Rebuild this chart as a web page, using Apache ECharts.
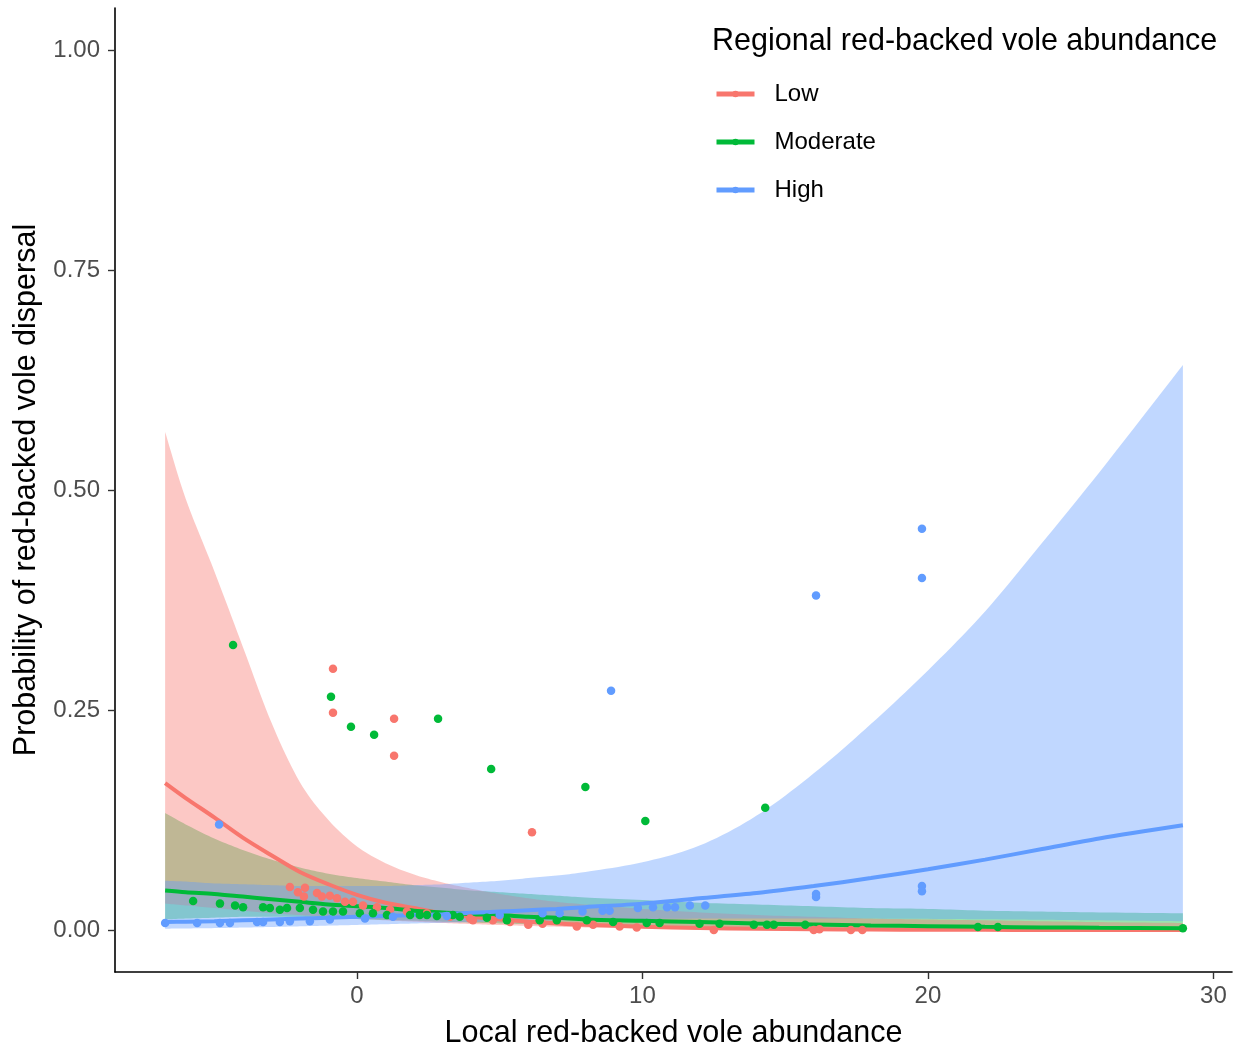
<!DOCTYPE html>
<html>
<head>
<meta charset="utf-8">
<script src="https://cdn.jsdelivr.net/npm/echarts@6/dist/echarts.min.js"></script>
<style>
html,body{margin:0;padding:0;background:#fff;}
#chart{width:1238px;height:1053px;}
</style>
</head>
<body>
<div id="chart"></div>
<script>
// ---------- data ----------
const groups = ['Low', 'Moderate', 'High'];
const xTicks = [0, 10, 20, 30];
const yTicks = [0, 0.25, 0.5, 0.75, 1];

// scatter points [local abundance, probability]
const lowPoints = [
  [-0.84,0.297],[-0.84,0.247],[1.3,0.240],[1.3,0.198],[6.13,0.111],
  [-2.35,0.049],[-2.07,0.043],[-1.82,0.048],[-1.86,0.038],[-1.40,0.042],
  [-1.23,0.038],[-0.95,0.039],[-0.70,0.036],[-0.42,0.032],[-0.14,0.032],
  [0.21,0.028],[0.70,0.026],[1.16,0.023],[1.75,0.021],[2.45,0.019],
  [3.26,0.015],[3.96,0.013],[4.06,0.011],[4.76,0.011],[5.36,0.009],
  [6.0,0.006],[6.5,0.007],[7.7,0.004],[8.27,0.006],[9.2,0.004],[9.8,0.003],
  [12.5,0.0],[16.0,0.0],[16.2,0.001],[17.3,0.0],[17.7,0.0]
];
const moderatePoints = [
  [-4.34,0.324],[-0.91,0.265],[-0.21,0.231],[0.6,0.222],[2.84,0.240],
  [4.7,0.183],[8.0,0.1625],[10.1,0.124],[14.3,0.139],
  [-5.74,0.033],[-4.8,0.030],[-4.27,0.028],[-3.99,0.026],[-3.29,0.026],
  [-3.05,0.025],[-2.70,0.023],[-2.45,0.025],[-2.0,0.025],[-1.54,0.023],
  [-1.19,0.021],[-0.84,0.021],[-0.49,0.021],[0.1,0.019],[0.56,0.019],
  [1.05,0.017],[1.86,0.017],[2.2,0.017],[2.45,0.017],[2.8,0.016],
  [3.36,0.017],[3.6,0.015],[4.55,0.014],[5.25,0.011],[6.4,0.011],
  [7.0,0.011],[8.05,0.011],[8.97,0.009],[10.15,0.008],[10.6,0.008],
  [12.0,0.007],[12.7,0.007],[13.9,0.006],[14.36,0.006],[14.6,0.006],
  [15.7,0.006],[21.75,0.0035],[22.45,0.0035],[28.93,0.002]
];
const highPoints = [
  [-4.83,0.120],[8.9,0.272],[16.08,0.380],[19.79,0.456],[19.79,0.400],
  [16.08,0.0375],[16.08,0.041],[19.79,0.050],[19.79,0.044],[12.2,0.028],
  [-6.72,0.008],[-5.6,0.008],[-4.8,0.008],[-4.45,0.008],[-3.5,0.009],
  [-3.29,0.009],[-2.7,0.009],[-2.35,0.010],[-1.65,0.010],[-0.95,0.012],
  [0.28,0.013],[1.26,0.015],[3.15,0.016],[5.0,0.017],[6.5,0.019],
  [7.1,0.019],[7.9,0.021],[8.6,0.022],[8.85,0.022],[9.84,0.025],
  [10.37,0.026],[10.86,0.026],[11.14,0.026],[11.66,0.028]
];

// fitted curves and confidence ribbons, read at these x positions
const fitX = [-6.72,-6,-5,-4,-3,-2,-1,0,1,2,3,4,5,6,7,8,10,12,14,16,18,20,22,24,26,28.93];
const lowFit = [0.167,0.150,0.128,0.105,0.085,0.066,0.052,0.040,0.031,0.025,0.019,0.015,0.012,0.0095,0.0075,0.006,0.0037,0.0023,0.0014,0.0009,0.0005,0.0003,0.0002,0.0001,0.0001,0.0];
const lowUpper = [0.566,0.490,0.408,0.322,0.236,0.168,0.125,0.095,0.076,0.063,0.054,0.047,0.041,0.036,0.032,0.029,0.024,0.020,0.017,0.015,0.013,0.012,0.011,0.010,0.009,0.008];
const lowLower = [0.030,0.028,0.025,0.022,0.019,0.017,0.015,0.013,0.011,0.0095,0.008,0.0068,0.0057,0.0047,0.0038,0.003,0.0019,0.0012,0.0007,0.0004,0.0002,0.0001,0.0001,0.0,0.0,0.0];
const moderateFit = [0.045,0.043,0.041,0.038,0.035,0.032,0.029,0.027,0.025,0.022,0.020,0.018,0.017,0.015,0.014,0.012,0.0105,0.009,0.0075,0.0063,0.0052,0.0044,0.0036,0.003,0.0025,0.002];
const moderateUpper = [0.133,0.120,0.104,0.091,0.080,0.071,0.064,0.059,0.055,0.051,0.048,0.045,0.043,0.041,0.039,0.037,0.034,0.031,0.029,0.027,0.025,0.024,0.022,0.021,0.020,0.019];
const moderateLower = [0.012,0.013,0.014,0.015,0.015,0.015,0.014,0.0125,0.0115,0.0105,0.0095,0.0085,0.0075,0.0066,0.0058,0.005,0.0037,0.0027,0.0019,0.0014,0.001,0.0007,0.0005,0.0004,0.0003,0.0002];
const highFit = [0.009,0.0095,0.010,0.011,0.012,0.013,0.014,0.015,0.016,0.017,0.018,0.0195,0.021,0.0225,0.024,0.026,0.030,0.036,0.042,0.050,0.059,0.069,0.080,0.092,0.104,0.119];
const highUpper = [0.056,0.055,0.053,0.052,0.051,0.050,0.050,0.050,0.050,0.051,0.052,0.054,0.056,0.059,0.062,0.066,0.077,0.096,0.130,0.178,0.234,0.295,0.362,0.440,0.520,0.642];
const highLower = [0.0015,0.0018,0.0022,0.0028,0.0035,0.0042,0.005,0.0058,0.0066,0.0074,0.0082,0.009,0.0097,0.0104,0.011,0.0116,0.0125,0.013,0.0132,0.0132,0.013,0.0127,0.0122,0.0117,0.011,0.010];

// ---------- styling ----------
const colors = {Low:'#F8766D', Moderate:'#00BA38', High:'#619CFF'};
const fills = {Low:'rgba(248,118,109,0.4)', Moderate:'rgba(0,186,56,0.4)', High:'rgba(97,156,255,0.4)'};
const FONT = '"Liberation Sans", Arial, Helvetica, sans-serif';

const fitData = {
  Low: {fit: lowFit, up: lowUpper, lo: lowLower, pts: lowPoints},
  Moderate: {fit: moderateFit, up: moderateUpper, lo: moderateLower, pts: moderatePoints},
  High: {fit: highFit, up: highUpper, lo: highLower, pts: highPoints}
};

// smooth pixel path through pixel points (Catmull-Rom, sampled)
function smoothPixels(p) {
  const out = [];
  const n = p.length;
  for (let i = 0; i < n - 1; i++) {
    const p0 = p[Math.max(0, i - 1)], p1 = p[i], p2 = p[i + 1], p3 = p[Math.min(n - 1, i + 2)];
    const c1 = [p1[0] + (p2[0] - p0[0]) / 6, p1[1] + (p2[1] - p0[1]) / 6];
    const c2 = [p2[0] - (p3[0] - p1[0]) / 6, p2[1] - (p3[1] - p1[1]) / 6];
    const steps = 10;
    for (let s = 0; s < steps; s++) {
      const t = s / steps, u = 1 - t;
      out.push([
        u*u*u*p1[0] + 3*u*u*t*c1[0] + 3*u*t*t*c2[0] + t*t*t*p2[0],
        u*u*u*p1[1] + 3*u*u*t*c1[1] + 3*u*t*t*c2[1] + t*t*t*p2[1]
      ]);
    }
  }
  out.push(p[n - 1]);
  return out;
}

function bandSeries(g) {
  const d = fitData[g];
  const data = fitX.map((x, i) => [x, d.lo[i], d.up[i]]);
  return {
    type: 'custom', name: g + ' CI', silent: true, clip: true, z: 1,
    data: data,
    encode: {x: 0, y: [1, 2]},
    renderItem: function (params, api) {
      if (params.dataIndex !== 0) return null;
      const up = data.map(r => api.coord([r[0], r[2]]));
      const lo = data.map(r => api.coord([r[0], r[1]]));
      const pts = smoothPixels(up).concat(smoothPixels(lo).reverse());
      return {type: 'polygon', shape: {points: pts}, style: {fill: fills[g], stroke: null}};
    }
  };
}
function lineSeries(g) {
  const d = fitData[g];
  return {
    type: 'line', name: g, z: 3,
    data: fitX.map((x, i) => [x, d.fit[i]]),
    smooth: 0.3,
    symbol: 'circle', symbolSize: 8, showSymbol: false,
    lineStyle: {color: colors[g], width: 4},
    itemStyle: {color: colors[g]},
    silent: true
  };
}
function pointSeries(g) {
  return {
    type: 'scatter', name: g + ' points', z: 4,
    data: fitData[g].pts,
    symbol: 'circle', symbolSize: 8.5,
    itemStyle: {color: colors[g], opacity: 1}
  };
}

const series = [];
['Moderate', 'Low', 'High'].forEach(g => series.push(bandSeries(g)));
groups.forEach(g => series.push(lineSeries(g)));
groups.forEach(g => series.push(pointSeries(g)));

const chart = echarts.init(document.getElementById('chart'), null, {renderer: 'canvas'});
chart.setOption({
  backgroundColor: '#ffffff',
  animation: false,
  textStyle: {fontFamily: FONT},
  title: {
    text: 'Regional red-backed vole abundance',
    left: 707, top: 21,
    textStyle: {fontFamily: FONT, fontSize: 30.5, fontWeight: 'normal', color: '#000'}
  },
  legend: {
    data: groups,
    orient: 'vertical',
    left: 709, top: 77,
    itemWidth: 38, itemHeight: 8, itemGap: 24,
    lineStyle: {width: 5},
    textStyle: {fontFamily: FONT, fontSize: 24, color: '#000', padding: [0, 0, 0, 15]},
    selectedMode: false
  },
  grid: {left: 115, right: 6, top: 8, bottom: 81, containLabel: false, outerBoundsMode: 'none'},
  xAxis: {
    type: 'value', min: -8.476, max: 30.65,
    name: 'Local red-backed vole abundance', nameLocation: 'middle', nameGap: 46,
    nameTextStyle: {fontFamily: FONT, fontSize: 30.5, color: '#000'},
    axisLine: {show: true, onZero: false, lineStyle: {color: '#000', width: 1.6}},
    axisTick: {show: true, length: 7, customValues: xTicks, lineStyle: {color: '#333', width: 1.4}},
    axisLabel: {customValues: xTicks, margin: 12, fontSize: 24, color: '#4D4D4D', fontFamily: FONT},
    splitLine: {show: false}
  },
  yAxis: {
    type: 'value', min: -0.0477, max: 1.0477,
    name: 'Probability of red-backed vole dispersal', nameLocation: 'middle', nameGap: 67,
    nameTextStyle: {fontFamily: FONT, fontSize: 30.5, color: '#000'},
    axisLine: {show: true, onZero: false, lineStyle: {color: '#000', width: 1.6}},
    axisTick: {show: true, length: 7, customValues: yTicks, lineStyle: {color: '#333', width: 1.4}},
    axisLabel: {customValues: yTicks, margin: 15, fontSize: 24, color: '#4D4D4D', fontFamily: FONT,
      formatter: v => v.toFixed(2)},
    splitLine: {show: false}
  },
  series: series
});
</script>
</body>
</html>
